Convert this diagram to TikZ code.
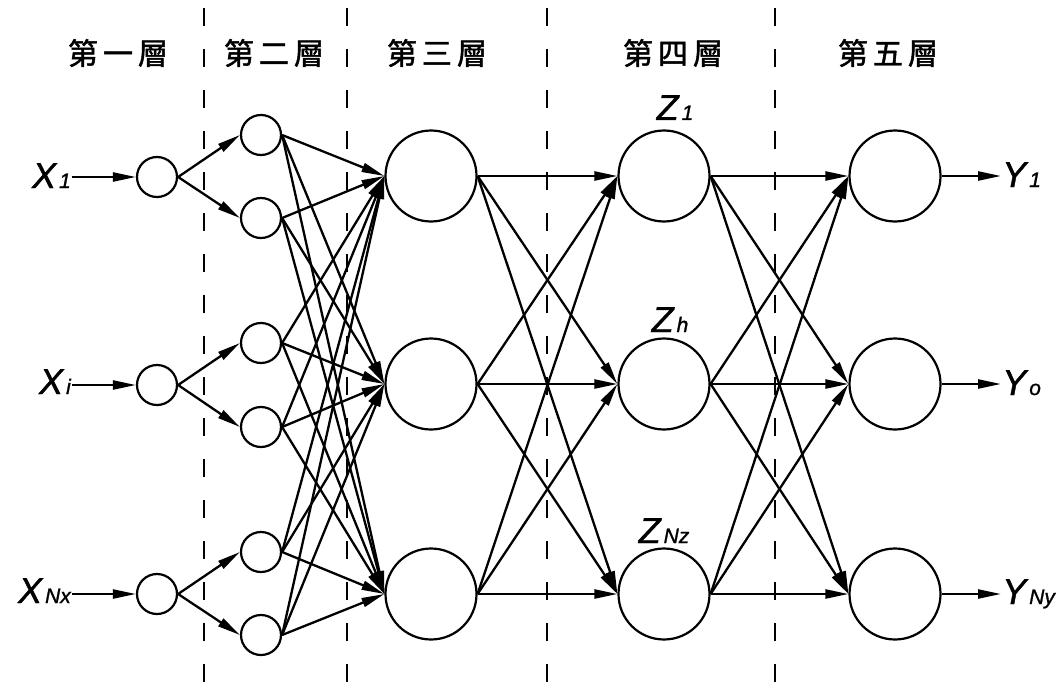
\documentclass[tikz,border=0pt]{standalone}
\usepackage{fontspec}
\newfontfamily\cjk[FakeBold=1.5]{Noto Sans CJK TC}
\newfontfamily\labfont[FakeBold=1.2]{Liberation Sans}
\usetikzlibrary{arrows.meta}
\newcommand\sbs[1]{\hspace{3pt}{\fontsize{21}{21}\selectfont #1}}
\begin{document}
\begin{tikzpicture}[x=1pt,y=-1pt,
  neuron/.style={circle,draw,line width=2.2pt,inner sep=0pt,minimum size=40pt},
  bigneuron/.style={circle,draw,line width=2.2pt,inner sep=0pt,minimum size=91pt},
  conn/.style={line width=2.3pt,-{Triangle[length=23pt,width=9pt]}},
  sepline/.style={line width=2pt,dash pattern=on 18pt off 23pt},
  header/.style={font=\cjk\fontsize{30}{30}\selectfont,inner sep=0pt},
  vlab/.style={font=\labfont\itshape\fontsize{36}{36}\selectfont,inner sep=1pt}
]
\fill[white] (0,0) rectangle (1059,690);
\useasboundingbox (0,0) rectangle (1059,690);

% layer separators
\foreach \x in {204,347,547,775}
  \draw[sepline] (\x,8) -- (\x,690);

% headers
\node[header] (h1) at (118,53) {第\hspace{5pt}一\hspace{5pt}層};
\node[header] (h2) at (274,53) {第\hspace{5pt}二\hspace{5pt}層};
\node[header] (h3) at (437,53) {第\hspace{5pt}三\hspace{5pt}層};
\node[header] (h4) at (673,53) {第\hspace{5pt}四\hspace{5pt}層};
\node[header] (h5) at (888,53) {第\hspace{5pt}五\hspace{5pt}層};

% layer 1
\node[neuron] (a1) at (157,177) {};
\node[neuron] (a2) at (157,385) {};
\node[neuron] (a3) at (157,594) {};
% layer 2
\node[neuron] (b1) at (261,135) {};
\node[neuron] (b2) at (261,218) {};
\node[neuron] (b3) at (261,343) {};
\node[neuron] (b4) at (261,427) {};
\node[neuron] (b5) at (261,552) {};
\node[neuron] (b6) at (261,635) {};
% layer 3
\node[bigneuron] (c1) at (431,176) {};
\node[bigneuron] (c2) at (431,384) {};
\node[bigneuron] (c3) at (431,594) {};
% layer 4
\node[bigneuron] (d1) at (664,176) {};
\node[bigneuron] (d2) at (664,384) {};
\node[bigneuron] (d3) at (664,594) {};
% layer 5
\node[bigneuron] (e1) at (895,176) {};
\node[bigneuron] (e2) at (895,384) {};
\node[bigneuron] (e3) at (895,594) {};

% input labels
\node[vlab,anchor=base east] (x1) at (72,188) {X\sbs{1}};
\node[vlab,anchor=base east] (x2) at (72,394) {X\sbs{i}};
\node[vlab,anchor=base east] (x3) at (72,603) {X\sbs{Nx}};
% output labels
\node[vlab,anchor=base west] (y1) at (1001,187) {Y\sbs{1}};
\node[vlab,anchor=base west] (y2) at (1001,395) {Y\sbs{o}};
\node[vlab,anchor=base west] (y3) at (1001,604) {Y\sbs{Ny}};
% layer 4 labels
\node[vlab,anchor=base] (z1) at (675,120) {Z\sbs{1}};
\node[vlab,anchor=base] (z2) at (670,332) {Z\sbs{h}};
\node[vlab,anchor=base] (z3) at (664,543) {Z\sbs{Nz}};

% inputs
\draw[conn] (x1.east |- a1) -- (a1.west);
\draw[conn] (x2.east |- a2) -- (a2.west);
\draw[conn] (x3.east |- a3) -- (a3.west);
% layer 1 -> 2
\draw[conn] (a1.east) -- (b1.west);
\draw[conn] (a1.east) -- (b2.west);
\draw[conn] (a2.east) -- (b3.west);
\draw[conn] (a2.east) -- (b4.west);
\draw[conn] (a3.east) -- (b5.west);
\draw[conn] (a3.east) -- (b6.west);
% layer 2 -> 3
\foreach \i in {1,...,6}
  \foreach \j in {1,2,3}
    \draw[conn] (b\i.east) -- (c\j.west);
% layer 3 -> 4
\foreach \i in {1,2,3}
  \foreach \j in {1,2,3}
    \draw[conn] (c\i.east) -- (d\j.west);
% layer 4 -> 5
\foreach \i in {1,2,3}
  \foreach \j in {1,2,3}
    \draw[conn] (d\i.east) -- (e\j.west);
% outputs
\draw[conn] (e1.east) -- (y1.west |- e1);
\draw[conn] (e2.east) -- (y2.west |- e2);
\draw[conn] (e3.east) -- (y3.west |- e3);
\end{tikzpicture}
\end{document}
